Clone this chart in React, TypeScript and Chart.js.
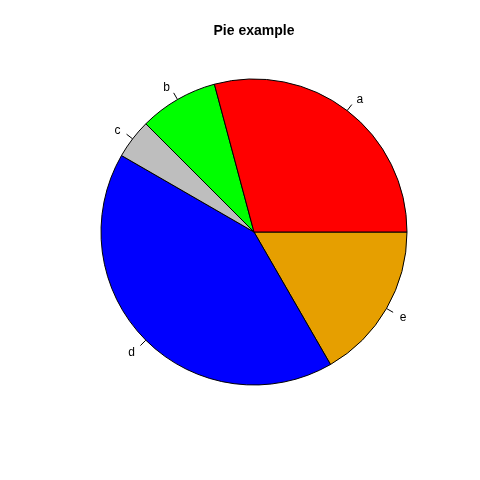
import React, { useEffect, useRef } from "react";
import { Chart, registerables } from "chart.js";

Chart.register(...registerables);

const categories = ["a", "b", "c", "d", "e"];
const values = [7, 2, 1, 10, 4];
const colors = ["#FF0000", "#00FF00", "#BEBEBE", "#0000FF", "#E69F00"];
const title = "Pie example";

// R draws counter-clockwise from 3 o'clock; Chart.js draws clockwise,
// so feed the slices in reverse order starting at 3 o'clock.
const order = categories.map((_, i) => i).reverse();

const labelPlugin = {
  id: "rPieLabels",
  afterDraw(chart: any) {
    const ctx = chart.ctx;
    const meta = chart.getDatasetMeta(0);
    ctx.save();
    // title
    ctx.fillStyle = "#000";
    ctx.font = "bold 14px 'Liberation Sans', Arial, sans-serif";
    ctx.textAlign = "center";
    ctx.textBaseline = "middle";
    ctx.fillText(title, 254, 31);

    ctx.font = "12px 'Liberation Sans', Arial, sans-serif";
    ctx.strokeStyle = "#000";
    ctx.lineWidth = 1;
    meta.data.forEach((arc: any, idx: number) => {
      const { x, y, startAngle, endAngle, outerRadius } = arc.getProps(
        ["x", "y", "startAngle", "endAngle", "outerRadius"],
        true
      );
      const mid = (startAngle + endAngle) / 2;
      const cx = Math.cos(mid);
      const cy = Math.sin(mid);
      ctx.beginPath();
      ctx.moveTo(x + outerRadius * cx, y + outerRadius * cy);
      ctx.lineTo(x + 1.05 * outerRadius * cx, y + 1.05 * outerRadius * cy);
      ctx.stroke();
      const tx = x + 1.1 * outerRadius * cx;
      const ty = y + 1.1 * outerRadius * cy + 1.5;
      ctx.textAlign = cx >= 0 ? "left" : "right";
      ctx.textBaseline = "middle";
      ctx.fillText(chart.data.labels[idx], tx, ty);
    });
    ctx.restore();
  },
};

export default function App() {
  const ref = useRef<HTMLCanvasElement>(null);
  useEffect(() => {
    if (!ref.current) return;
    const chart = new Chart(ref.current, {
      type: "pie",
      data: {
        labels: order.map((i) => categories[i]),
        datasets: [
          {
            data: order.map((i) => values[i]),
            backgroundColor: order.map((i) => colors[i]),
            borderColor: "#000",
            borderWidth: 1,
          },
        ],
      },
      options: {
        responsive: false,
        animation: false,
        rotation: 90,
        layout: { padding: { left: 100.5, right: 72.5, top: 78.5, bottom: 94.5 } },
        plugins: {
          legend: { display: false },
          tooltip: { enabled: false },
          title: { display: false },
        },
      },
      plugins: [labelPlugin],
    });
    return () => chart.destroy();
  }, []);
  return (
    <div style={{ position: "fixed", left: 0, top: 0, width: 480, height: 480, background: "#fff" }}>
      <canvas ref={ref} width={480} height={480} />
    </div>
  );
}
